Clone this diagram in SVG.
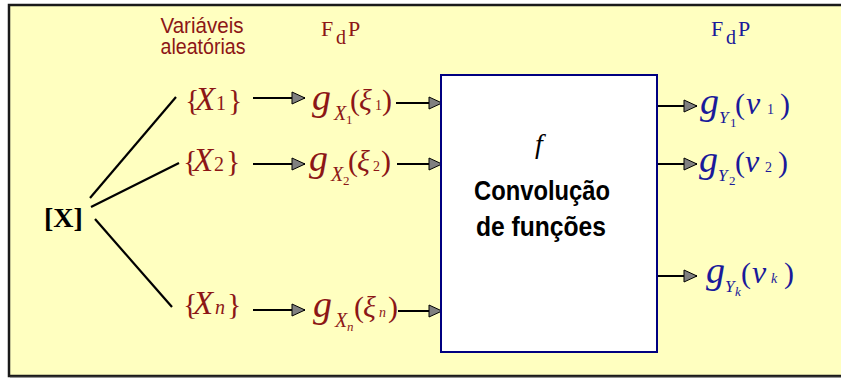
<svg xmlns="http://www.w3.org/2000/svg" width="841" height="378" viewBox="0 0 841 378">
<defs>
<style>
.sans{font-family:"Liberation Sans",Arial,sans-serif}
.ser{font-family:"Liberation Serif","Times New Roman",serif}
.red{fill:#8c1616}
.blue{fill:#1a1a9a}
.it{font-style:italic}
.ln{stroke:#000;stroke-width:2.2;fill:none}
</style>
<marker id="ah" markerUnits="userSpaceOnUse" markerWidth="16" markerHeight="14" refX="14" refY="7" orient="auto">
<path d="M1,1 L14,7 L1,13 Z" fill="#808080" stroke="#000" stroke-width="1"/>
</marker>
</defs>
<rect x="9" y="5" width="850" height="371" fill="#ffffc0" stroke="#1a1a1a" stroke-width="2.5"/>
<line x1="10" y1="377.3" x2="841" y2="377.3" stroke="#888" stroke-width="1"/>

<g id="labels">
<text class="sans red" font-size="22" text-anchor="middle" x="202" y="33" textLength="83" lengthAdjust="spacingAndGlyphs">Variáveis</text>
<text class="sans red" font-size="22" text-anchor="middle" x="203" y="54" textLength="85" lengthAdjust="spacingAndGlyphs">aleatórias</text>
<text class="ser red" font-size="22" y="36"><tspan x="321">F</tspan><tspan x="336" dy="8" font-size="20">d</tspan><tspan x="348" dy="-8">P</tspan></text>
<text class="ser blue" font-size="22" y="36"><tspan x="711">F</tspan><tspan x="726" dy="8" font-size="20">d</tspan><tspan x="738" dy="-8">P</tspan></text>
</g>

<g id="connectors">
<line class="ln" x1="90" y1="198" x2="176" y2="97"/>
<line class="ln" x1="91" y1="207" x2="179" y2="163"/>
<line class="ln" x1="95" y1="219" x2="172" y2="307"/>
<line class="ln" x1="253" y1="98" x2="305" y2="98" marker-end="url(#ah)"/>
<line class="ln" x1="253" y1="164" x2="305" y2="164" marker-end="url(#ah)"/>
<line class="ln" x1="253" y1="310" x2="305" y2="310" marker-end="url(#ah)"/>
<line class="ln" x1="396" y1="103" x2="442" y2="103" marker-end="url(#ah)"/>
<line class="ln" x1="397" y1="164" x2="442" y2="164" marker-end="url(#ah)"/>
<line class="ln" x1="398" y1="311" x2="442" y2="311" marker-end="url(#ah)"/>
<line class="ln" x1="657" y1="106" x2="697" y2="106" marker-end="url(#ah)"/>
<line class="ln" x1="657" y1="164" x2="697" y2="164" marker-end="url(#ah)"/>
<line class="ln" x1="657" y1="276" x2="697" y2="276" marker-end="url(#ah)"/>
</g>

<g id="X">
<text class="ser" font-size="28" font-weight="bold" x="44" y="227">[X]</text>
</g>

<g id="X1">
<text class="ser red" font-size="30" y="110"><tspan x="185">{</tspan><tspan x="195" class="it" font-size="33">X</tspan><tspan x="216" font-size="20">1</tspan><tspan x="228">}</tspan></text>
</g>
<g id="X2">
<text class="ser red" font-size="30" y="171"><tspan x="183">{</tspan><tspan x="193" class="it" font-size="33">X</tspan><tspan x="214" font-size="20">2</tspan><tspan x="226">}</tspan></text>
</g>
<g id="Xn">
<text class="ser red" font-size="30" y="314"><tspan x="183">{</tspan><tspan x="193" class="it" font-size="33">X</tspan><tspan x="215" font-size="20" class="it">n</tspan><tspan x="227">}</tspan></text>
</g>

<g id="gX1">
<text class="ser red" font-size="30" y="110"><tspan x="312" class="it" font-size="38">g</tspan><tspan x="334" dy="10" font-size="20" class="it">X</tspan><tspan x="346" dy="4" font-size="13">1</tspan><tspan x="350" dy="-14">(</tspan><tspan x="359" class="it">ξ</tspan><tspan x="375" font-size="14">1</tspan><tspan x="382">)</tspan></text>
</g>
<g id="gX2">
<text class="ser red" font-size="30" y="171"><tspan x="309" class="it" font-size="38">g</tspan><tspan x="331" dy="10" font-size="20" class="it">X</tspan><tspan x="343" dy="4" font-size="13">2</tspan><tspan x="348" dy="-14">(</tspan><tspan x="357" class="it">ξ</tspan><tspan x="373" font-size="14">2</tspan><tspan x="381">)</tspan></text>
</g>
<g id="gXn">
<text class="ser red" font-size="30" y="317"><tspan x="313" class="it" font-size="38">g</tspan><tspan x="335" dy="10" font-size="20" class="it">X</tspan><tspan x="347" dy="4" font-size="13" class="it">n</tspan><tspan x="354" dy="-14">(</tspan><tspan x="363" class="it">ξ</tspan><tspan x="379" font-size="14" class="it">n</tspan><tspan x="388">)</tspan></text>
</g>

<g id="box">
<rect x="441" y="75" width="216" height="277" fill="#fff" stroke="#000080" stroke-width="2"/>
<text class="ser it" font-size="28" x="535" y="153">f</text>
<text class="sans" font-size="27" font-weight="bold" text-anchor="middle" x="542" y="200" textLength="136" lengthAdjust="spacingAndGlyphs">Convolução</text>
<text class="sans" font-size="27" font-weight="bold" text-anchor="middle" x="541" y="236" textLength="130" lengthAdjust="spacingAndGlyphs">de funções</text>
</g>

<g id="gY1">
<text class="ser blue" font-size="30" y="114"><tspan x="700" class="it" font-size="38">g</tspan><tspan x="719" dy="9" font-size="17" class="it">Y</tspan><tspan x="730" dy="4" font-size="13">1</tspan><tspan x="735" dy="-13">(</tspan><tspan x="746" class="it" font-size="32">ν</tspan><tspan x="767" font-size="14">1</tspan><tspan x="780">)</tspan></text>
</g>
<g id="gY2">
<text class="ser blue" font-size="30" y="172"><tspan x="699" class="it" font-size="38">g</tspan><tspan x="718" dy="9" font-size="17" class="it">Y</tspan><tspan x="729" dy="4" font-size="13">2</tspan><tspan x="735" dy="-13">(</tspan><tspan x="745" class="it" font-size="32">ν</tspan><tspan x="765" font-size="14">2</tspan><tspan x="778">)</tspan></text>
</g>
<g id="gYk">
<text class="ser blue" font-size="30" y="283"><tspan x="706" class="it" font-size="38">g</tspan><tspan x="725" dy="9" font-size="17" class="it">Y</tspan><tspan x="735" dy="4" font-size="13" class="it">k</tspan><tspan x="741" dy="-13">(</tspan><tspan x="752" class="it" font-size="32">ν</tspan><tspan x="771" font-size="14" class="it">k</tspan><tspan x="784">)</tspan></text>
</g>
</svg>
